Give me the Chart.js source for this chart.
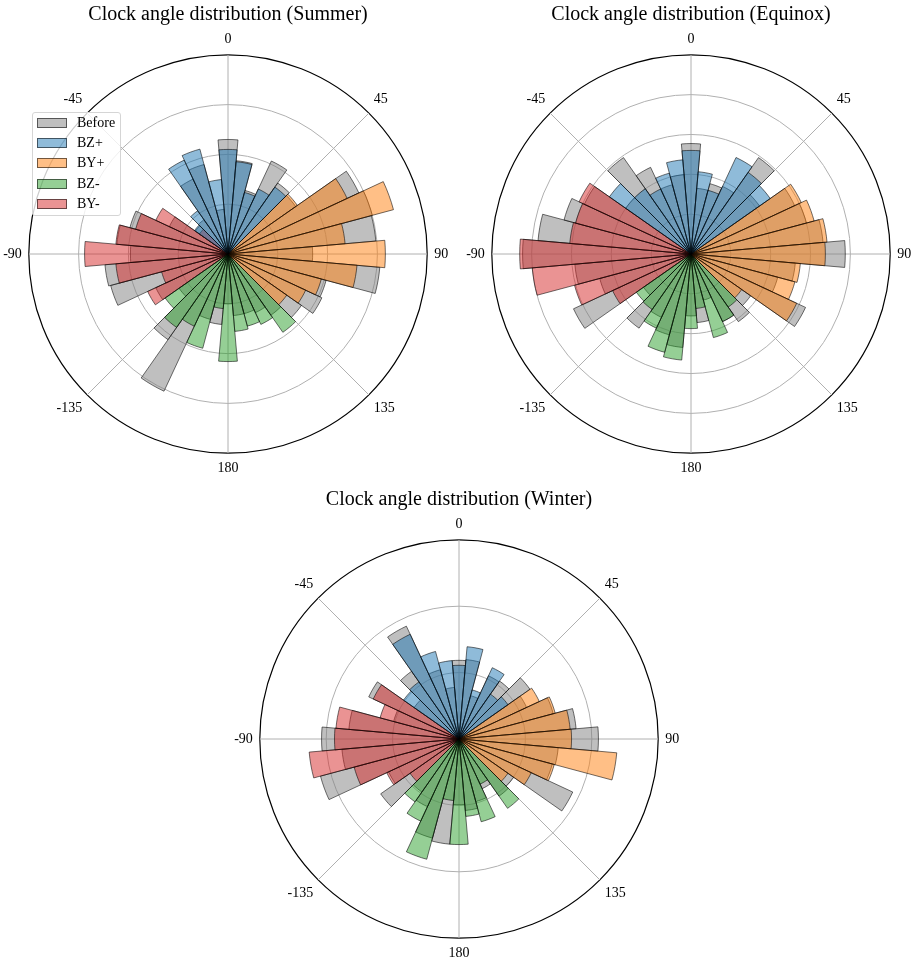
<!DOCTYPE html>
<html>
<head>
<meta charset="utf-8">
<title>Clock angle distribution</title>
<script src="https://cdn.jsdelivr.net/npm/chart.js@4.4.1/dist/chart.umd.min.js"></script>
<style>
  html, body { margin: 0; padding: 0; background: #fff; }
  #page { position: relative; width: 920px; height: 961px; overflow: hidden; }
  .rose { position: absolute; width: 510px; height: 478px; }
  #summer { left: -27px; top: 0; }
  #equinox { left: 436px; top: 0; }
  #winter { left: 204px; top: 485px; }
  #legend {
    position: absolute; left: 32px; top: 112px; width: 87px; height: 102px;
    border: 1px solid #d5d5d5; border-radius: 3px; background: rgba(255,255,255,0.8);
    font-family: 'Liberation Serif', serif; font-size: 14px; color: #000; z-index: 5;
  }
  .row { position: absolute; left: 4px; height: 10px; width: 80px; }
  .swatch { position: absolute; left: 0; top: 0; width: 28px; height: 8px; border: 1px solid rgba(0,0,0,0.55); }
  .row span { position: absolute; left: 40px; top: -3px; line-height: 16px; white-space: nowrap; }
</style>
</head>
<body>
<div id="page">
  <div class="rose" id="summer"><canvas id="cSummer"></canvas></div>
  <div class="rose" id="equinox"><canvas id="cEquinox"></canvas></div>
  <div class="rose" id="winter"><canvas id="cWinter"></canvas></div>
  <div id="legend"></div>
</div>
<script>
// bins are 10 degrees wide, centred on 0, 10, ..., 180, -170, ..., -10 (clockwise from the top)
const binAngles = [0, 10, 20, 30, 40, 50, 60, 70, 80, 90, 100, 110, 120, 130, 140, 150, 160, 170,
                   180, -170, -160, -150, -140, -130, -120, -110, -100, -90, -80, -70, -60, -50, -40, -30, -20, -10];
const angleTickLabels = ['0', '45', '90', '135', '180', '-135', '-90', '-45'];

const seriesNames = ['Before', 'BZ+', 'BY+', 'BZ-', 'BY-'];
const seriesFill = ['rgba(128,128,128,0.5)', 'rgba(31,119,180,0.5)', 'rgba(255,127,14,0.5)',
                    'rgba(44,160,44,0.5)', 'rgba(214,39,40,0.5)'];

// percent of events per bin
const summerBefore = [3.45,2.82,1.98,3.09,2.61,2.49,4.35,4.50,4.47,2.55,4.59,3.06,3.12,2.70,2.25,1.95,1.86,1.86,
                      1.50,2.13,2.04,4.56,3.15,1.80,2.40,3.66,3.72,2.94,3.36,3.06,1.95,1.20,1.26,2.49,2.79,1.35];
const summerBZp = [3.15,2.79,1.92,2.16,2.46,0,0,0,0,0,0,0,0,0,0,0,0,0,
                   0,0,0,0,0,0,0,0,0,0,0,0,0,1.23,1.59,3.12,3.27,2.25];
const summerBYp = [0,0,0,0,0,2.55,3.96,5.16,3.54,4.74,3.90,2.91,2.58,2.16,0,0,0,0,
                   0,0,0,0,0,0,0,0,0,0,0,0,0,0,0,0,0,0];
const summerBZm = [0,0,0,0,0,0,0,0,0,0,0,0,0,0,2.88,2.34,2.25,2.34,
                   3.24,1.65,2.94,2.40,2.70,2.31,0,0,0,0,0,0,0,0,0,0,0,0];
const summerBYm = [0,0,0,0,0,0,0,0,0,0,0,0,0,0,0,0,0,0,
                   0,0,0,0,0,0,2.67,2.07,3.39,4.32,3.39,2.88,2.40,1.05,0,0,0,0];

const equinoxBefore = [3.05,1.82,2.01,2.06,3.25,2.31,3.16,3.30,3.66,4.26,2.89,2.48,3.49,2.01,2.28,2.06,1.32,1.90,
                       1.71,2.59,2.31,1.93,2.50,1.60,3.58,2.61,3.22,4.65,4.24,3.63,3.25,2.20,3.25,2.64,1.98,2.20];
const equinoxBZp = [2.86,2.28,1.82,2.94,2.75,2.67,0,0,0,0,0,0,0,0,0,0,0,0,
                    0,0,0,0,0,0,0,0,0,0,0,0,0,2.75,2.20,1.98,2.31,2.61];
const equinoxBYp = [0,0,0,0,0,0,3.36,3.52,3.77,3.71,3.03,2.97,3.22,1.71,0,0,0,0,
                    0,0,0,0,0,0,0,0,0,0,0,0,0,0,0,0,0,0];
const equinoxBZm = [0,0,0,0,0,0,0,0,0,0,0,0,0,0,1.79,2.06,2.39,1.51,
                    2.06,2.94,2.81,2.26,1.87,1.84,0,0,0,0,0,0,0,0,0,0,0,0];
const equinoxBYm = [0,0,0,0,0,0,0,0,0,0,0,0,0,0,0,0,0,0,
                    0,0,0,0,0,0,2.39,3.33,4.40,4.73,3.36,3.30,3.41,0,0,0,0,0];

const winterBefore = [2.37,2.40,1.35,2.10,2.13,2.61,2.25,2.94,3.54,4.20,3.00,2.91,3.78,2.01,2.10,1.65,1.95,2.16,
                      1.98,3.18,3.09,2.25,1.95,2.88,2.34,4.32,3.54,4.14,3.33,2.04,3.00,1.65,2.49,3.75,2.16,1.56];
const winterBZp = [2.22,2.79,1.53,2.37,1.65,1.80,0,0,0,0,0,0,0,0,0,0,0,0,
                   0,0,0,0,0,0,0,0,0,0,0,0,0,2.04,2.10,3.48,2.73,2.37];
const winterBYp = [0,0,0,0,0,0,2.67,3.00,3.36,3.39,4.77,2.97,2.40,1.80,0,0,0,0,
                   0,0,0,0,0,0,0,0,0,0,0,0,0,0,0,0,0,0];
const winterBZm = [0,0,0,0,0,0,0,0,0,0,0,0,0,0,2.55,1.50,2.58,2.34,
                   3.18,1.86,3.75,2.73,2.31,0,0,0,0,0,0,0,0,0,0,0,0,0];
const winterBYm = [0,0,0,0,0,0,0,0,0,0,0,0,0,0,0,0,0,0,
                   0,0,0,0,0,1.80,2.40,3.27,4.53,3.75,3.72,2.46,2.85,0,0,0,0,0];

// the radial scale gets 72 spokes of 5 degrees; every 9th one (45 deg) carries a label
const spokeLabels = [];
for (let i = 0; i < 72; i++) {
  spokeLabels.push(i % 9 === 1 ? angleTickLabels[(i - 1) / 9] : '');
}

function roseChart(id, titleText, series, rMax, rStep) {
  new Chart(document.getElementById(id), {
    type: 'polarArea',
    data: {
      labels: spokeLabels,
      datasets: series.map((values, k) => ({
        label: seriesNames[k],
        data: values,
        backgroundColor: seriesFill[k],
        borderColor: 'rgba(0,0,0,0.55)',
        borderWidth: 1,
        order: k === 0 ? 1 : 0
      }))
    },
    options: {
      responsive: true,
      maintainAspectRatio: false,
      animation: false,
      plugins: {
        legend: { display: false },
        tooltip: {
          callbacks: { title: items => binAngles[items[0].dataIndex] + '\u00b0' }
        },
        title: {
          display: true,
          text: titleText,
          color: '#000',
          font: { family: 'Liberation Serif', size: 20, weight: 'normal' },
          padding: { top: 3, bottom: 5 }
        }
      },
      scales: {
        r: {
          min: 0,
          max: rMax,
          startAngle: -5,
          ticks: { display: false, stepSize: rStep },
          grid: {
            circular: true,
            color: c => (c.tick && c.tick.value >= rMax ? '#000' : '#b0b0b0'),
            lineWidth: c => (c.tick && c.tick.value >= rMax ? 1.2 : 1)
          },
          angleLines: {
            display: true,
            color: '#b0b0b0',
            lineWidth: c => (c.index % 9 === 1 ? 1 : 0)
          },
          pointLabels: {
            display: true,
            color: '#000',
            padding: 7,
            font: { family: 'Liberation Serif', size: 14 }
          }
        }
      }
    }
  });
}

roseChart('cSummer', 'Clock angle distribution (Summer)',
  [summerBefore, summerBZp, summerBYp, summerBZm, summerBYm], 6, 1.5);
roseChart('cEquinox', 'Clock angle distribution (Equinox)',
  [equinoxBefore, equinoxBZp, equinoxBYp, equinoxBZm, equinoxBYm], 5.5, 1.1);
roseChart('cWinter', 'Clock angle distribution (Winter)',
  [winterBefore, winterBZp, winterBYp, winterBZm, winterBYm], 6, 2);

// legend of the first panel
const legend = document.getElementById('legend');
seriesNames.forEach((name, k) => {
  const row = document.createElement('div');
  row.className = 'row';
  row.style.top = (5 + k * 20.2) + 'px';
  const sw = document.createElement('div');
  sw.className = 'swatch';
  sw.style.background = seriesFill[k];
  const txt = document.createElement('span');
  txt.textContent = name;
  row.appendChild(sw);
  row.appendChild(txt);
  legend.appendChild(row);
});
</script>
</body>
</html>
